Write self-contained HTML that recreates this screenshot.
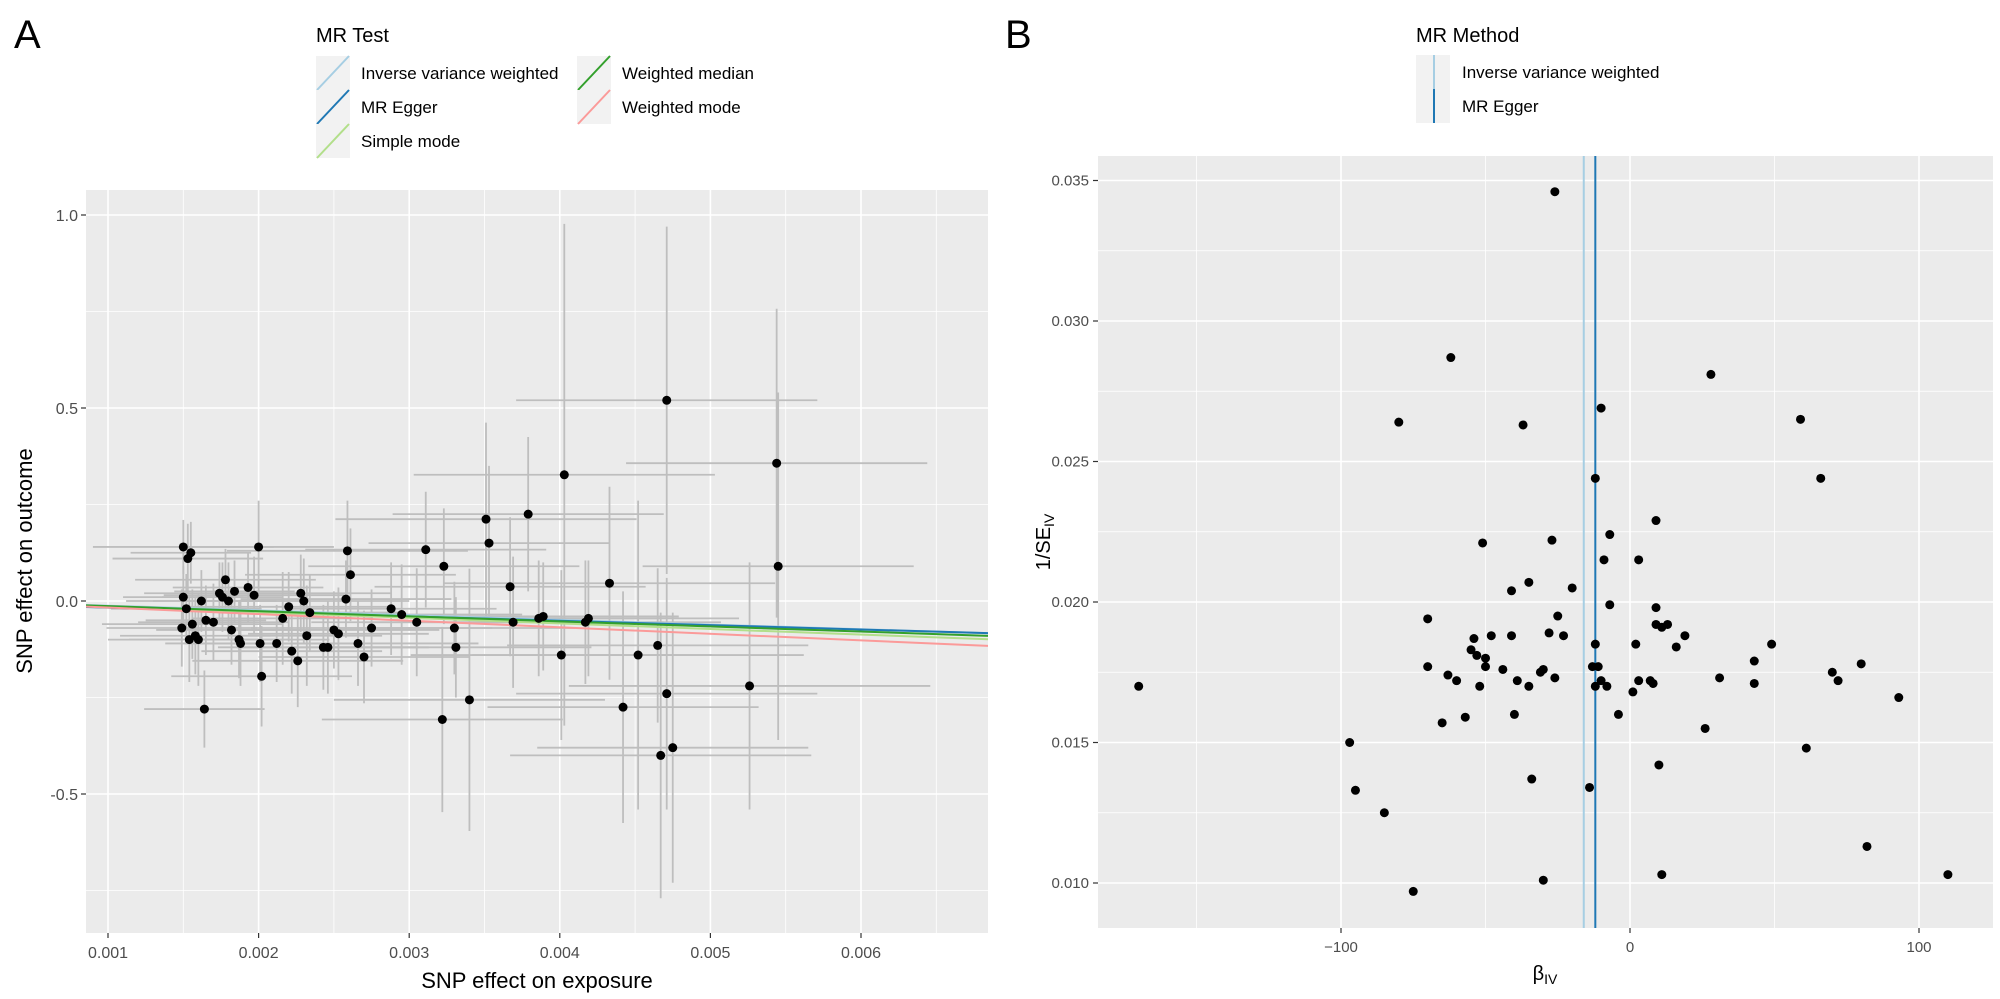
<!DOCTYPE html>
<html><head><meta charset="utf-8">
<style>
html,body{margin:0;padding:0;background:#fff;}
svg{display:block;font-family:"Liberation Sans",sans-serif;}
</style></head>
<body>
<svg id="chart" width="2000" height="999" viewBox="0 0 2000 999" xmlns="http://www.w3.org/2000/svg">
<text x="14" y="48" font-size="40" fill="#000">A</text>
<text x="1005" y="48" font-size="40" fill="#000">B</text>
<g id="legA">
<text x="316" y="42" font-size="20" fill="#000">MR Test</text>
</g>
<g id="legB">
<text x="1416" y="42" font-size="20" fill="#000">MR Method</text>
</g>
<g id="panelA"></g>
<g id="panelB"></g>
<text x="537" y="988" font-size="22" text-anchor="middle" fill="#000">SNP effect on exposure</text>
<text transform="translate(32,561) rotate(-90)" font-size="22" text-anchor="middle" fill="#000">SNP effect on outcome</text>
<text x="1545" y="980" font-size="20" text-anchor="middle" fill="#000">β<tspan font-size="14" dy="4">IV</tspan></text>
<text transform="translate(1050,542) rotate(-90)" font-size="20" text-anchor="middle" fill="#000">1/SE<tspan font-size="14" dy="4">IV</tspan></text>
</svg>
<script>
// ---- Panel A data ----
const snpExposure = [0.00150,0.00152,0.00150,0.00153,0.00155,0.00149,0.00156,0.00154,0.00158,0.00162,0.00160,0.00165,0.00170,0.00164,0.00174,0.00176,0.00178,0.00180,0.00182,0.00184,0.00187,0.00188,0.00193,0.00197,0.00201,0.00200,0.00202,0.00212,0.00216,0.00220,0.00222,0.00226,0.00228,0.00230,0.00232,0.00234,0.00243,0.00246,0.00250,0.00253,0.00258,0.00259,0.00261,0.00266,0.00270,0.00275,0.00288,0.00295,0.00305,0.00311,0.00323,0.00322,0.00330,0.00331,0.00340,0.00351,0.00353,0.00367,0.00369,0.00379,0.00386,0.00389,0.00401,0.00403,0.00417,0.00419,0.00433,0.00442,0.00452,0.00465,0.00467,0.00471,0.00471,0.00475,0.00526,0.00544,0.00545];
const snpOutcome = [0.010,-0.020,0.140,0.110,0.125,-0.070,-0.060,-0.100,-0.090,0.000,-0.100,-0.050,-0.055,-0.280,0.020,0.010,0.055,0.000,-0.075,0.025,-0.100,-0.110,0.035,0.015,-0.110,0.140,-0.195,-0.110,-0.045,-0.015,-0.130,-0.155,0.020,0.000,-0.090,-0.030,-0.120,-0.120,-0.075,-0.085,0.005,0.130,0.068,-0.110,-0.145,-0.070,-0.020,-0.035,-0.055,0.133,0.090,-0.307,-0.070,-0.120,-0.256,0.212,0.150,0.037,-0.055,0.225,-0.045,-0.040,-0.140,0.327,-0.055,-0.045,0.046,-0.275,-0.140,-0.115,-0.400,0.520,-0.240,-0.380,-0.220,0.357,0.090];
const exposureErr = [0.0004,0.0005,0.0006,0.0005,0.0004,0.0005,0.0006,0.0004,0.0005,0.0005,0.0006,0.0004,0.0005,0.0004,0.0005,0.0004,0.0006,0.0005,0.0005,0.0004,0.0006,0.0005,0.0005,0.0006,0.0005,0.0005,0.0006,0.0005,0.0006,0.0007,0.0006,0.0007,0.0006,0.0007,0.0005,0.0006,0.0007,0.0006,0.0007,0.0006,0.0007,0.0008,0.0007,0.0008,0.0007,0.0008,0.0007,0.0008,0.0007,0.0008,0.0009,0.0008,0.0008,0.0009,0.0009,0.0010,0.0008,0.0009,0.0010,0.0009,0.0008,0.0009,0.0010,0.0010,0.0009,0.0010,0.0011,0.0009,0.0011,0.0010,0.0010,0.0010,0.0010,0.0009,0.0012,0.0010,0.0009];
const outcomeErr = [0.08,0.09,0.07,0.09,0.08,0.10,0.09,0.11,0.10,0.08,0.12,0.09,0.10,0.10,0.08,0.09,0.08,0.10,0.09,0.08,0.10,0.11,0.09,0.10,0.10,0.12,0.13,0.10,0.12,0.09,0.11,0.12,0.10,0.11,0.13,0.10,0.11,0.12,0.10,0.12,0.10,0.13,0.12,0.11,0.12,0.10,0.12,0.13,0.14,0.15,0.15,0.24,0.12,0.13,0.34,0.25,0.20,0.18,0.17,0.20,0.15,0.14,0.22,0.65,0.16,0.15,0.25,0.30,0.40,0.20,0.37,0.45,0.30,0.35,0.32,0.40,0.45];
const methodNames = ["Inverse variance weighted","MR Egger","Simple mode","Weighted median","Weighted mode"];
const methodSlopes = [-12.2,-11.3,-14.5,-13.2,-17.0];
const methodIntercepts = [0,-0.006,0,0,0];
const xTicksA = [0.001,0.002,0.003,0.004,0.005,0.006];
const xTickLabelsA = ["0.001","0.002","0.003","0.004","0.005","0.006"];
const yTicksA = [-0.5,0.0,0.5,1.0];
const yTickLabelsA = ["-0.5","0.0","0.5","1.0"];
// ---- Panel B data ----
const betaIV = [-170,-97,-95,-85,-75,-80,-62,-70,-70,-65,-63,-60,-57,-55,-54,-53,-52,-50,-50,-51,-48,-44,-41,-41,-40,-39,-37,-35,-35,-34,-31,-30,-30,-28,-27,-26,-25,-23,-20,-14,-13,-12,-12,-12,-11,-10,-10,-9,-8,-7,-7,-4,-26,1,2,3,3,7,8,9,9,9,10,11,11,13,16,19,26,28,31,43,43,49,59,61,66,70,72,80,82,93,110];
const invSE = [0.0170,0.0150,0.0133,0.0125,0.0097,0.0264,0.0287,0.0194,0.0177,0.0157,0.0174,0.0172,0.0159,0.0183,0.0187,0.0181,0.0170,0.0180,0.0177,0.0221,0.0188,0.0176,0.0204,0.0188,0.0160,0.0172,0.0263,0.0207,0.0170,0.0137,0.0175,0.0176,0.0101,0.0189,0.0222,0.0173,0.0195,0.0188,0.0205,0.0134,0.0177,0.0244,0.0185,0.0170,0.0177,0.0269,0.0172,0.0215,0.0170,0.0224,0.0199,0.0160,0.0346,0.0168,0.0185,0.0215,0.0172,0.0172,0.0171,0.0192,0.0229,0.0198,0.0142,0.0103,0.0191,0.0192,0.0184,0.0188,0.0155,0.0281,0.0173,0.0179,0.0171,0.0185,0.0265,0.0148,0.0244,0.0175,0.0172,0.0178,0.0113,0.0166,0.0103];
const funnelMethods = ["Inverse variance weighted","MR Egger"];
const funnelEstimates = [-16,-12];
const xTicksB = [-100,0,100];
const xTickLabelsB = ["\u2212100","0","100"];
const yTicksB = [0.010,0.015,0.020,0.025,0.030,0.035];
const yTickLabelsB = ["0.010","0.015","0.020","0.025","0.030","0.035"];

const NS="http://www.w3.org/2000/svg";
function mk(tag, attrs, parent){const e=document.createElementNS(NS,tag);for(const k in attrs)e.setAttribute(k,attrs[k]);parent.appendChild(e);return e;}
const colors=["#a6cee3","#1f78b4","#b2df8a","#33a02c","#fb9a99"];

// Panel A geometry
const A={l:86,r:988,t:190,b:933};
const xA=v=>108+(v-0.001)*150600;
const yA=v=>601-v*386;
const xAinv=p=>0.001+(p-108)/150600;
const gA=document.getElementById('panelA');
let bg=mk('rect',{x:A.l,y:A.t,width:A.r-A.l,height:A.b-A.t,fill:'#ebebeb'},gA);


for(let i=0;i<xTicksA.length+1;i++){const v=0.0005+i*0.001;const p=xA(v);if(p>A.l&&p<A.r){const ln=mk('line',{x1:p,x2:p,y1:A.t,y2:A.b,stroke:'#fff','stroke-width':0.8},gA);

}}
for(let v=-0.75;v<=1.0;v+=0.5){const p=yA(v);const ln=mk('line',{x1:A.l,x2:A.r,y1:p,y2:p,stroke:'#fff','stroke-width':0.8},gA);

}
xTicksA.forEach((v,i)=>{const p=xA(v);const ln=mk('line',{x1:p,x2:p,y1:A.t,y2:A.b,stroke:'#fff','stroke-width':1.6},gA);


const tk=mk('line',{x1:p,x2:p,y1:A.b,y2:A.b+5,stroke:'#333','stroke-width':1.2},gA);


const t=mk('text',{x:p,y:A.b+25,'font-size':16,'text-anchor':'middle',fill:'#4d4d4d'},gA);t.textContent=xTickLabelsA[i];

});
yTicksA.forEach((v,i)=>{const p=yA(v);const ln=mk('line',{x1:A.l,x2:A.r,y1:p,y2:p,stroke:'#fff','stroke-width':1.6},gA);


const tk=mk('line',{x1:A.l-5,x2:A.l,y1:p,y2:p,stroke:'#333','stroke-width':1.2},gA);


const t=mk('text',{x:A.l-8,y:p+6,'font-size':16,'text-anchor':'end',fill:'#4d4d4d'},gA);t.textContent=yTickLabelsA[i];

});
const clipA=mk('clipPath',{id:'clipA'},gA);mk('rect',{x:A.l,y:A.t,width:A.r-A.l,height:A.b-A.t},clipA);
const gErr=mk('g',{'clip-path':'url(#clipA)'},gA);
snpExposure.forEach((x,i)=>{const y=snpOutcome[i];
const h=mk('line',{x1:xA(x-exposureErr[i]),x2:xA(x+exposureErr[i]),y1:yA(y),y2:yA(y),stroke:'#bebebe','stroke-width':1.8},gErr);


const v=mk('line',{x1:xA(x),x2:xA(x),y1:yA(y-outcomeErr[i]),y2:yA(y+outcomeErr[i]),stroke:'#bebebe','stroke-width':1.8},gErr);

});
const xl=xAinv(A.l),xr=xAinv(A.r);
methodSlopes.forEach((s,i)=>{const c=methodIntercepts[i];
const ln=mk('line',{x1:A.l,x2:A.r,y1:yA(c+s*xl),y2:yA(c+s*xr),stroke:colors[i],'stroke-width':2},gErr);

});
snpExposure.forEach((x,i)=>{const d=mk('circle',{cx:xA(x),cy:yA(snpOutcome[i]),r:4.5,fill:'#000'},gErr);

});

// Legend A
const legA=document.getElementById('legA');
const legPos=[[316,56],[316,90],[316,124],[577,56],[577,90]];
methodNames.forEach((n,i)=>{const [x,y]=legPos[i];
const r=mk('rect',{x:x,y:y,width:34,height:34,fill:'#f2f2f2'},legA);


const l=mk('line',{x1:x+1,y1:y+34,x2:x+33,y2:y,stroke:colors[i],'stroke-width':2},legA);


const t=mk('text',{x:x+45,y:y+23,'font-size':17,fill:'#000'},legA);t.textContent=n;

});

// Panel B geometry
const B={l:1098,r:1993,t:156,b:928};
const xB=v=>1630+v*2.89;
const yB=v=>883-(v-0.010)*28100;
const gB=document.getElementById('panelB');
bg=mk('rect',{x:B.l,y:B.t,width:B.r-B.l,height:B.b-B.t,fill:'#ebebeb'},gB);


[-150,-50,50].forEach(v=>{const p=xB(v);const ln=mk('line',{x1:p,x2:p,y1:B.t,y2:B.b,stroke:'#fff','stroke-width':0.8},gB);

});
[0.0125,0.0175,0.0225,0.0275,0.0325].forEach(v=>{const p=yB(v);const ln=mk('line',{x1:B.l,x2:B.r,y1:p,y2:p,stroke:'#fff','stroke-width':0.8},gB);

});
xTicksB.forEach((v,i)=>{const p=xB(v);const ln=mk('line',{x1:p,x2:p,y1:B.t,y2:B.b,stroke:'#fff','stroke-width':1.6},gB);


const tk=mk('line',{x1:p,x2:p,y1:B.b,y2:B.b+5,stroke:'#333','stroke-width':1.2},gB);


const t=mk('text',{x:p,y:B.b+24,'font-size':15,'text-anchor':'middle',fill:'#4d4d4d'},gB);t.textContent=xTickLabelsB[i];

});
yTicksB.forEach((v,i)=>{const p=yB(v);const ln=mk('line',{x1:B.l,x2:B.r,y1:p,y2:p,stroke:'#fff','stroke-width':1.6},gB);


const tk=mk('line',{x1:B.l-5,x2:B.l,y1:p,y2:p,stroke:'#333','stroke-width':1.2},gB);


const t=mk('text',{x:B.l-9,y:p+5,'font-size':15,'text-anchor':'end',fill:'#4d4d4d'},gB);t.textContent=yTickLabelsB[i];

});
funnelEstimates.forEach((v,i)=>{const p=xB(v);const ln=mk('line',{x1:p,x2:p,y1:B.t,y2:B.b,stroke:colors[i],'stroke-width':2},gB);

});
betaIV.forEach((b,i)=>{const d=mk('circle',{cx:xB(b),cy:yB(invSE[i]),r:4.5,fill:'#000'},gB);

});

// Legend B
const legB=document.getElementById('legB');
funnelMethods.forEach((n,i)=>{const y=55+i*34;
const r=mk('rect',{x:1416,y:y,width:34,height:34,fill:'#f2f2f2'},legB);


const l=mk('line',{x1:1434,y1:y,x2:1434,y2:y+34,stroke:colors[i],'stroke-width':2},legB);


const t=mk('text',{x:1462,y:y+23,'font-size':17,fill:'#000'},legB);t.textContent=n;

});
</script>
</body></html>
